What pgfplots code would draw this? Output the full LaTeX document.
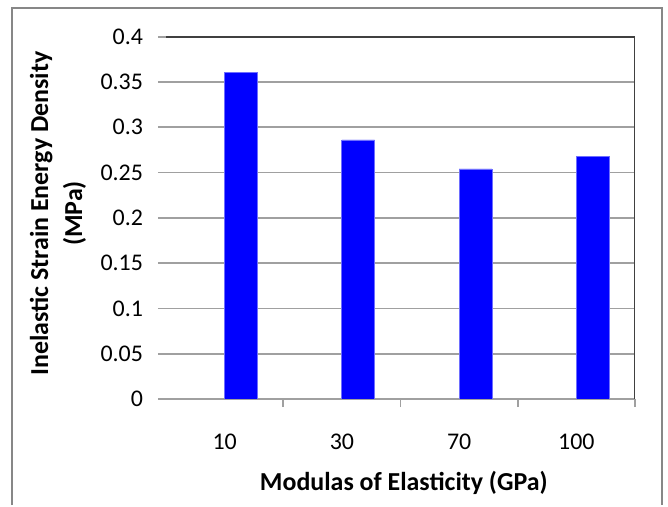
\documentclass[border=0pt]{standalone}
\usepackage{pgfplots}
\pgfplotsset{compat=1.18}
\usepackage{fontspec}
\setmainfont{Carlito}

\definecolor{barblue}{RGB}{0,0,255}
\definecolor{baredge}{RGB}{110,110,255}
\definecolor{gridgray}{RGB}{160,160,160}
\definecolor{framegray}{RGB}{64,64,64}
\definecolor{outergray}{RGB}{135,135,135}

\begin{document}
\begin{tikzpicture}
% page extent and the chart-area frame
\path (0,0) rectangle (334bp,252.5bp);
\draw[outergray, line width=1.2bp] (6bp,0) -- (6bp,248.5bp) -- (331bp,248.5bp) -- (331bp,0);
\begin{axis}[
  at={(83bp,53bp)}, anchor=south west,
  scale only axis, width=234.5bp, height=181.15bp,
  xmin=-0.5, xmax=3.5, ymin=0, ymax=0.4,
  axis line style={draw=none},
  tick align=outside, major tick length=4bp,
  xtick pos=bottom, ytick pos=left,
  ytick={0,0.05,0.1,0.15,0.2,0.25,0.3,0.35,0.4},
  yticklabels={0,0.05,0.1,0.15,0.2,0.25,0.3,0.35,0.4},
  ymajorgrids, grid style={gridgray, line width=0.8bp},
  y tick style={gridgray, line width=0.8bp},
  xtick={0.5,1.5,2.5,3.5}, xticklabels={},
  x tick style={gridgray, line width=0.8bp},
  extra x ticks={0,1,2,3},
  extra x tick labels={10,30,70,100},
  extra x tick style={tick style={draw=none}},
  tick label style={font=\fontsize{12}{14}\selectfont, text=black},
  yticklabel style={anchor=east, xshift=-4bp},
  xticklabel style={anchor=center, yshift=-17.5bp},
  ylabel={Inelastic Strain Energy Density\\(MPa)},
  ylabel style={align=center, font=\bfseries\fontsize{13}{17}\selectfont,
    at={(axis description cs:-0.2303,0.512)}, anchor=center},
  xlabel={Modulas of Elasticity (GPa)},
  xlabel style={font=\bfseries\fontsize{13}{15}\selectfont,
    at={(axis description cs:0.507,0)}, anchor=center, yshift=-42bp},
]
\addplot[ybar, fill=barblue, draw=baredge, line width=0.4bp,
  bar width=0.28, bar shift=0.14]
  coordinates {(0,0.361) (1,0.286) (2,0.254) (3,0.268)};
% plot-area border on the top and right
\draw[framegray, line width=0.9bp] (rel axis cs:0,1) -- (rel axis cs:1,1) -- (rel axis cs:1,0);
\end{axis}
\end{tikzpicture}
\end{document}
